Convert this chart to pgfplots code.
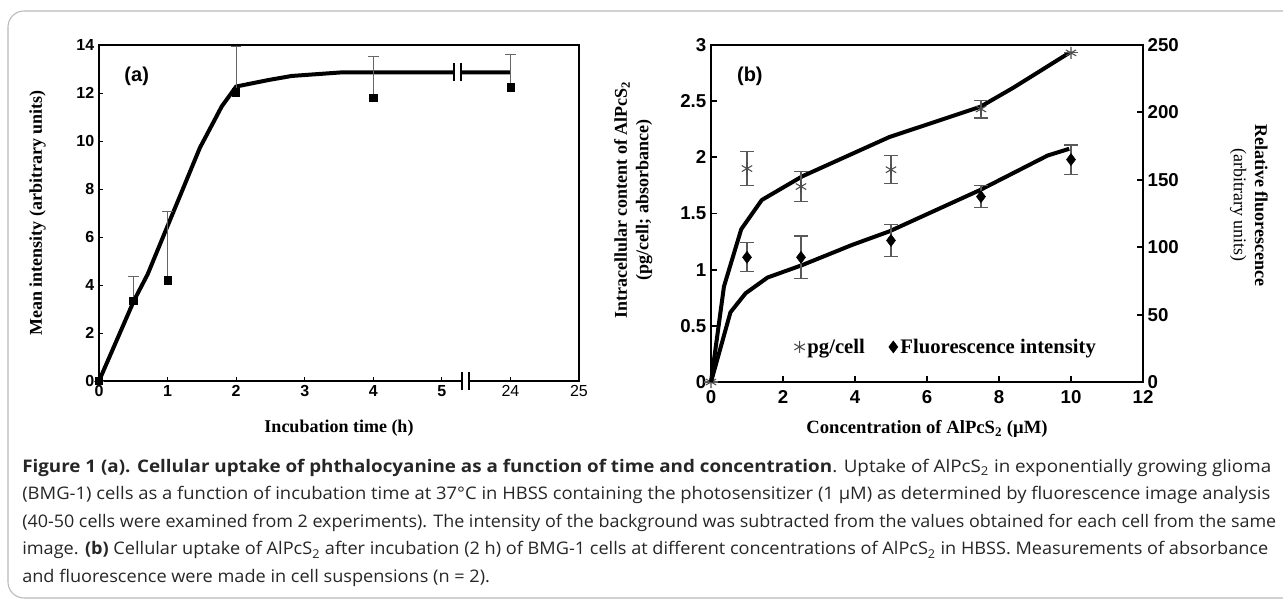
\documentclass[border=0pt]{standalone}
\usepackage{pgfplots}
\pgfplotsset{compat=1.18}
\usetikzlibrary{calc}
\usepackage{fontspec}
\setmainfont{Liberation Serif}
\newfontfamily\arial{Liberation Sans}
\newfontfamily\capfont{Open Sans}
\newsavebox\capbox
\newcommand\capline[2]{\sbox\capbox{#2}\pgfmathsetmacro\capsf{#1/\wd\capbox}\scalebox{\capsf}[1]{\usebox\capbox}}
\begin{document}
\begin{tikzpicture}
\path[use as bounding box] (0,0) rectangle (962.25pt,-457.5pt);
\clip (0,0) rectangle (962.25pt,-457.5pt);
\draw[gray!55, line width=0.8pt, rounded corners=12pt] (6pt,-8.25pt) rectangle (975pt,-448.5pt);

% ---------------- panel (a) ----------------
\begin{axis}[name=A, at={(74.25pt,-285.75pt)}, anchor=south west,
  scale only axis, width=360pt, height=252pt,
  xmin=0, xmax=7, ymin=0, ymax=14,
  xtick={0,1,2,3,4,5,6,7},
  xticklabels={0,1,2,3,4,5,{\mdseries 24},{\mdseries 25}},
  ytick={0,2,...,14},
  xtick pos=left, ytick pos=left, tick align=inside,
  major tick length=3pt,
  every tick/.style={black, line width=0.6pt},
  axis line style={line width=2.2pt},
  /pgf/number format/assume math mode=true,
  tick label style={font=\arial\bfseries\fontsize{12}{14}\selectfont},
  clip=false,
  xlabel={Incubation time (h)},
  xlabel style={at={(axis description cs:0.5,-0.14)}, anchor=center, font=\bfseries\fontsize{13.5}{15}\selectfont},
  ylabel={Mean intensity (arbitrary units)},
  ylabel style={at={(axis description cs:-0.128,0.5)}, anchor=center, font=\bfseries\fontsize{13.5}{15}\selectfont},
]
\addplot[black, line width=3pt, line join=round] coordinates {
(0,0) (0.51,3.35) (0.71,4.45) (1.0,6.46) (1.19,7.77) (1.47,9.71) (1.79,11.44) (2.0,12.27) (2.47,12.54) (2.81,12.71) (3.54,12.86) (6,12.86)};
\addplot[only marks, mark=square*, mark size=2.7pt, black,
  error bars/.cd, y dir=plus, y explicit,
  error bar style={gray!80!black, line width=0.6pt},
  error mark options={rotate=90, gray!80!black, mark size=4pt, line width=0.6pt}]
  coordinates {
  (0,0) +- (0,0)
  (0.5,3.35) +- (0,0.99)
  (1,4.2) +- (0,2.85)
  (2,12.03) +- (0,1.9)
  (4,11.81) +- (0,1.72)
  (6,12.24) +- (0,1.37)};
\node[font=\arial\bfseries\fontsize{15}{17}\selectfont] at (axis cs:0.55,12.7) {(a)};
\coordinate (cbrk) at (axis cs:5.23,12.86);
\coordinate (abrk) at (axis cs:5.345,0);
\end{axis}
% breaks
\fill[white] ($(cbrk)+(-2pt,-2.6pt)$) rectangle ($(cbrk)+(2pt,2.6pt)$);
\draw[black, line width=1.5pt] ($(cbrk)+(-2.6pt,-6.8pt)$) -- ($(cbrk)+(-2.6pt,6.8pt)$);
\draw[black, line width=1.5pt] ($(cbrk)+(2.6pt,-6.8pt)$) -- ($(cbrk)+(2.6pt,6.8pt)$);
\fill[white] ($(abrk)+(-2pt,-2pt)$) rectangle ($(abrk)+(2pt,2pt)$);
\draw[black, line width=1.5pt] ($(abrk)+(-2.6pt,-6.8pt)$) -- ($(abrk)+(-2.6pt,6.8pt)$);
\draw[black, line width=1.5pt] ($(abrk)+(2.6pt,-6.8pt)$) -- ($(abrk)+(2.6pt,6.8pt)$);

% ---------------- panel (b) ----------------
\begin{axis}[name=B, at={(533.25pt,-286.5pt)}, anchor=south west,
  scale only axis, width=324pt, height=252.75pt,
  xmin=0, xmax=12, ymin=0, ymax=3,
  xtick={0,2,...,12}, ytick={0,0.5,1,1.5,2,2.5,3},
  xtick pos=left, ytick pos=left, tick align=inside,
  major tick length=4.5pt,
  every tick/.style={black, line width=1.4pt},
  axis line style={line width=2.2pt},
  /pgf/number format/assume math mode=true,
  tick label style={font=\arial\bfseries\fontsize{14}{16}\selectfont},
  xticklabel style={yshift=-3pt},
  clip=false,
  xlabel={Concentration of AlPcS\textsubscript{2} (μM)},
  xlabel style={at={(axis description cs:0.5,-0.14)}, anchor=center, font=\bfseries\fontsize{14}{16}\selectfont},
  ylabel={Intracellular content of AlPcS\textsubscript{2}\\(pg/cell; absorbance)},
  ylabel style={at={(axis description cs:-0.18,0.54)}, anchor=center, align=center, font=\bfseries\fontsize{13.5}{16}\selectfont},
  legend style={at={(axis description cs:0.545,0.104)}, anchor=center, draw=none, fill=none,
    font=\bfseries\fontsize{15.5}{17}\selectfont, legend columns=2,
    /tikz/every even column/.append style={column sep=16pt}},
  legend cell align=left,
]
\addlegendimage{only marks, mark=asterisk, mark size=4.5pt, gray!60!black, line width=0.8pt}
\addlegendentry{pg/cell}
\addlegendimage{only marks, mark=diamond*, mark size=4.5pt, black}
\addlegendentry{Fluorescence intensity}
\addplot[forget plot, black, line width=3pt, line join=round] coordinates {
(0,0) (0.36,0.85) (0.84,1.36) (1.41,1.62) (2.53,1.83) (4.95,2.18) (7.48,2.45) (8.4,2.62) (9.95,2.93)};
\addplot[forget plot, only marks, mark=asterisk, mark size=4.5pt, gray!60!black, mark options={line width=0.8pt},
  error bars/.cd, y dir=both, y explicit,
  error bar style={gray!70!black, line width=0.8pt},
  error mark options={rotate=90, gray!70!black, mark size=5pt, line width=0.8pt}]
  coordinates {
  (0,0) +- (0,0)
  (1,1.90) +- (0,0.15)
  (2.5,1.74) +- (0,0.135)
  (5,1.89) +- (0,0.125)
  (7.5,2.43) +- (0,0.08)
  (10,2.93) +- (0,0)};
\node[font=\arial\bfseries\fontsize{15}{17}\selectfont] at (axis cs:1.08,2.72) {(b)};
\end{axis}
\begin{axis}[at={(533.25pt,-286.5pt)}, anchor=south west,
  scale only axis, width=324pt, height=252.75pt,
  xmin=0, xmax=12, ymin=0, ymax=250,
  axis x line=none, axis y line*=right,
  ytick={0,50,...,250}, tick align=inside,
  major tick length=4.5pt,
  every tick/.style={black, line width=1.4pt},
  axis line style={line width=2.2pt},
  /pgf/number format/assume math mode=true,
  tick label style={font=\arial\bfseries\fontsize{14}{16}\selectfont},
  clip=false,
  ylabel={Relative fluorescence\\{\mdseries(arbitrary units)}},
  ylabel style={at={(axis description cs:1.245,0.525)}, anchor=center, align=center, rotate=180, font=\bfseries\fontsize{13.5}{16}\selectfont},
]
\addplot[black, line width=3pt, line join=round] coordinates {
(0,0) (0.54,51.7) (0.96,65.8) (1.57,77.5) (2.53,86.7) (3.92,101.7) (4.95,111.7) (7.48,142.5) (9.35,168) (9.95,173)};
\addplot[only marks, mark=diamond*, mark size=4.5pt, black,
  error bars/.cd, y dir=both, y explicit,
  error bar style={gray!70!black, line width=0.8pt},
  error mark options={rotate=90, gray!70!black, mark size=5pt, line width=0.8pt}]
  coordinates {
  (1,92.5) +- (0,10.8)
  (2.5,92.5) +- (0,15.8)
  (5,105) +- (0,11.7)
  (7.5,137.5) +- (0,8)
  (10,165) +- (0,10.8)};
\end{axis}

% ---------------- caption ----------------
\begin{scope}[every node/.style={anchor=base west, inner sep=0pt, text=black!85, font=\capfont\fontsize{13}{16}\selectfont}]
\node at (16.5pt,-354pt) {\capline{936.75pt}{{\bfseries Figure 1 (a). Cellular uptake of phthalocyanine as a function of time and concentration}. Uptake of AlPcS\textsubscript{2} in exponentially growing glioma}};
\node at (16.5pt,-374.7pt) {\capline{936pt}{(BMG-1) cells as a function of incubation time at 37°C in HBSS containing the photosensitizer (1 μM) as determined by fluorescence image analysis}};
\node at (16.5pt,-395.4pt) {\capline{940.5pt}{(40-50 cells were examined from 2 experiments). The intensity of the background was subtracted from the values obtained for each cell from the same}};
\node at (16.5pt,-416.1pt) {\capline{934.5pt}{image. {\bfseries (b)} Cellular uptake of AlPcS\textsubscript{2} after incubation (2 h) of BMG-1 cells at different concentrations of AlPcS\textsubscript{2} in HBSS. Measurements of absorbance}\xdef\lastsf{\capsf}};
\node at (16.5pt,-436.8pt) {\scalebox{\lastsf}[1]{and fluorescence were made in cell suspensions (n = 2).}};
\end{scope}
\end{tikzpicture}
\end{document}
